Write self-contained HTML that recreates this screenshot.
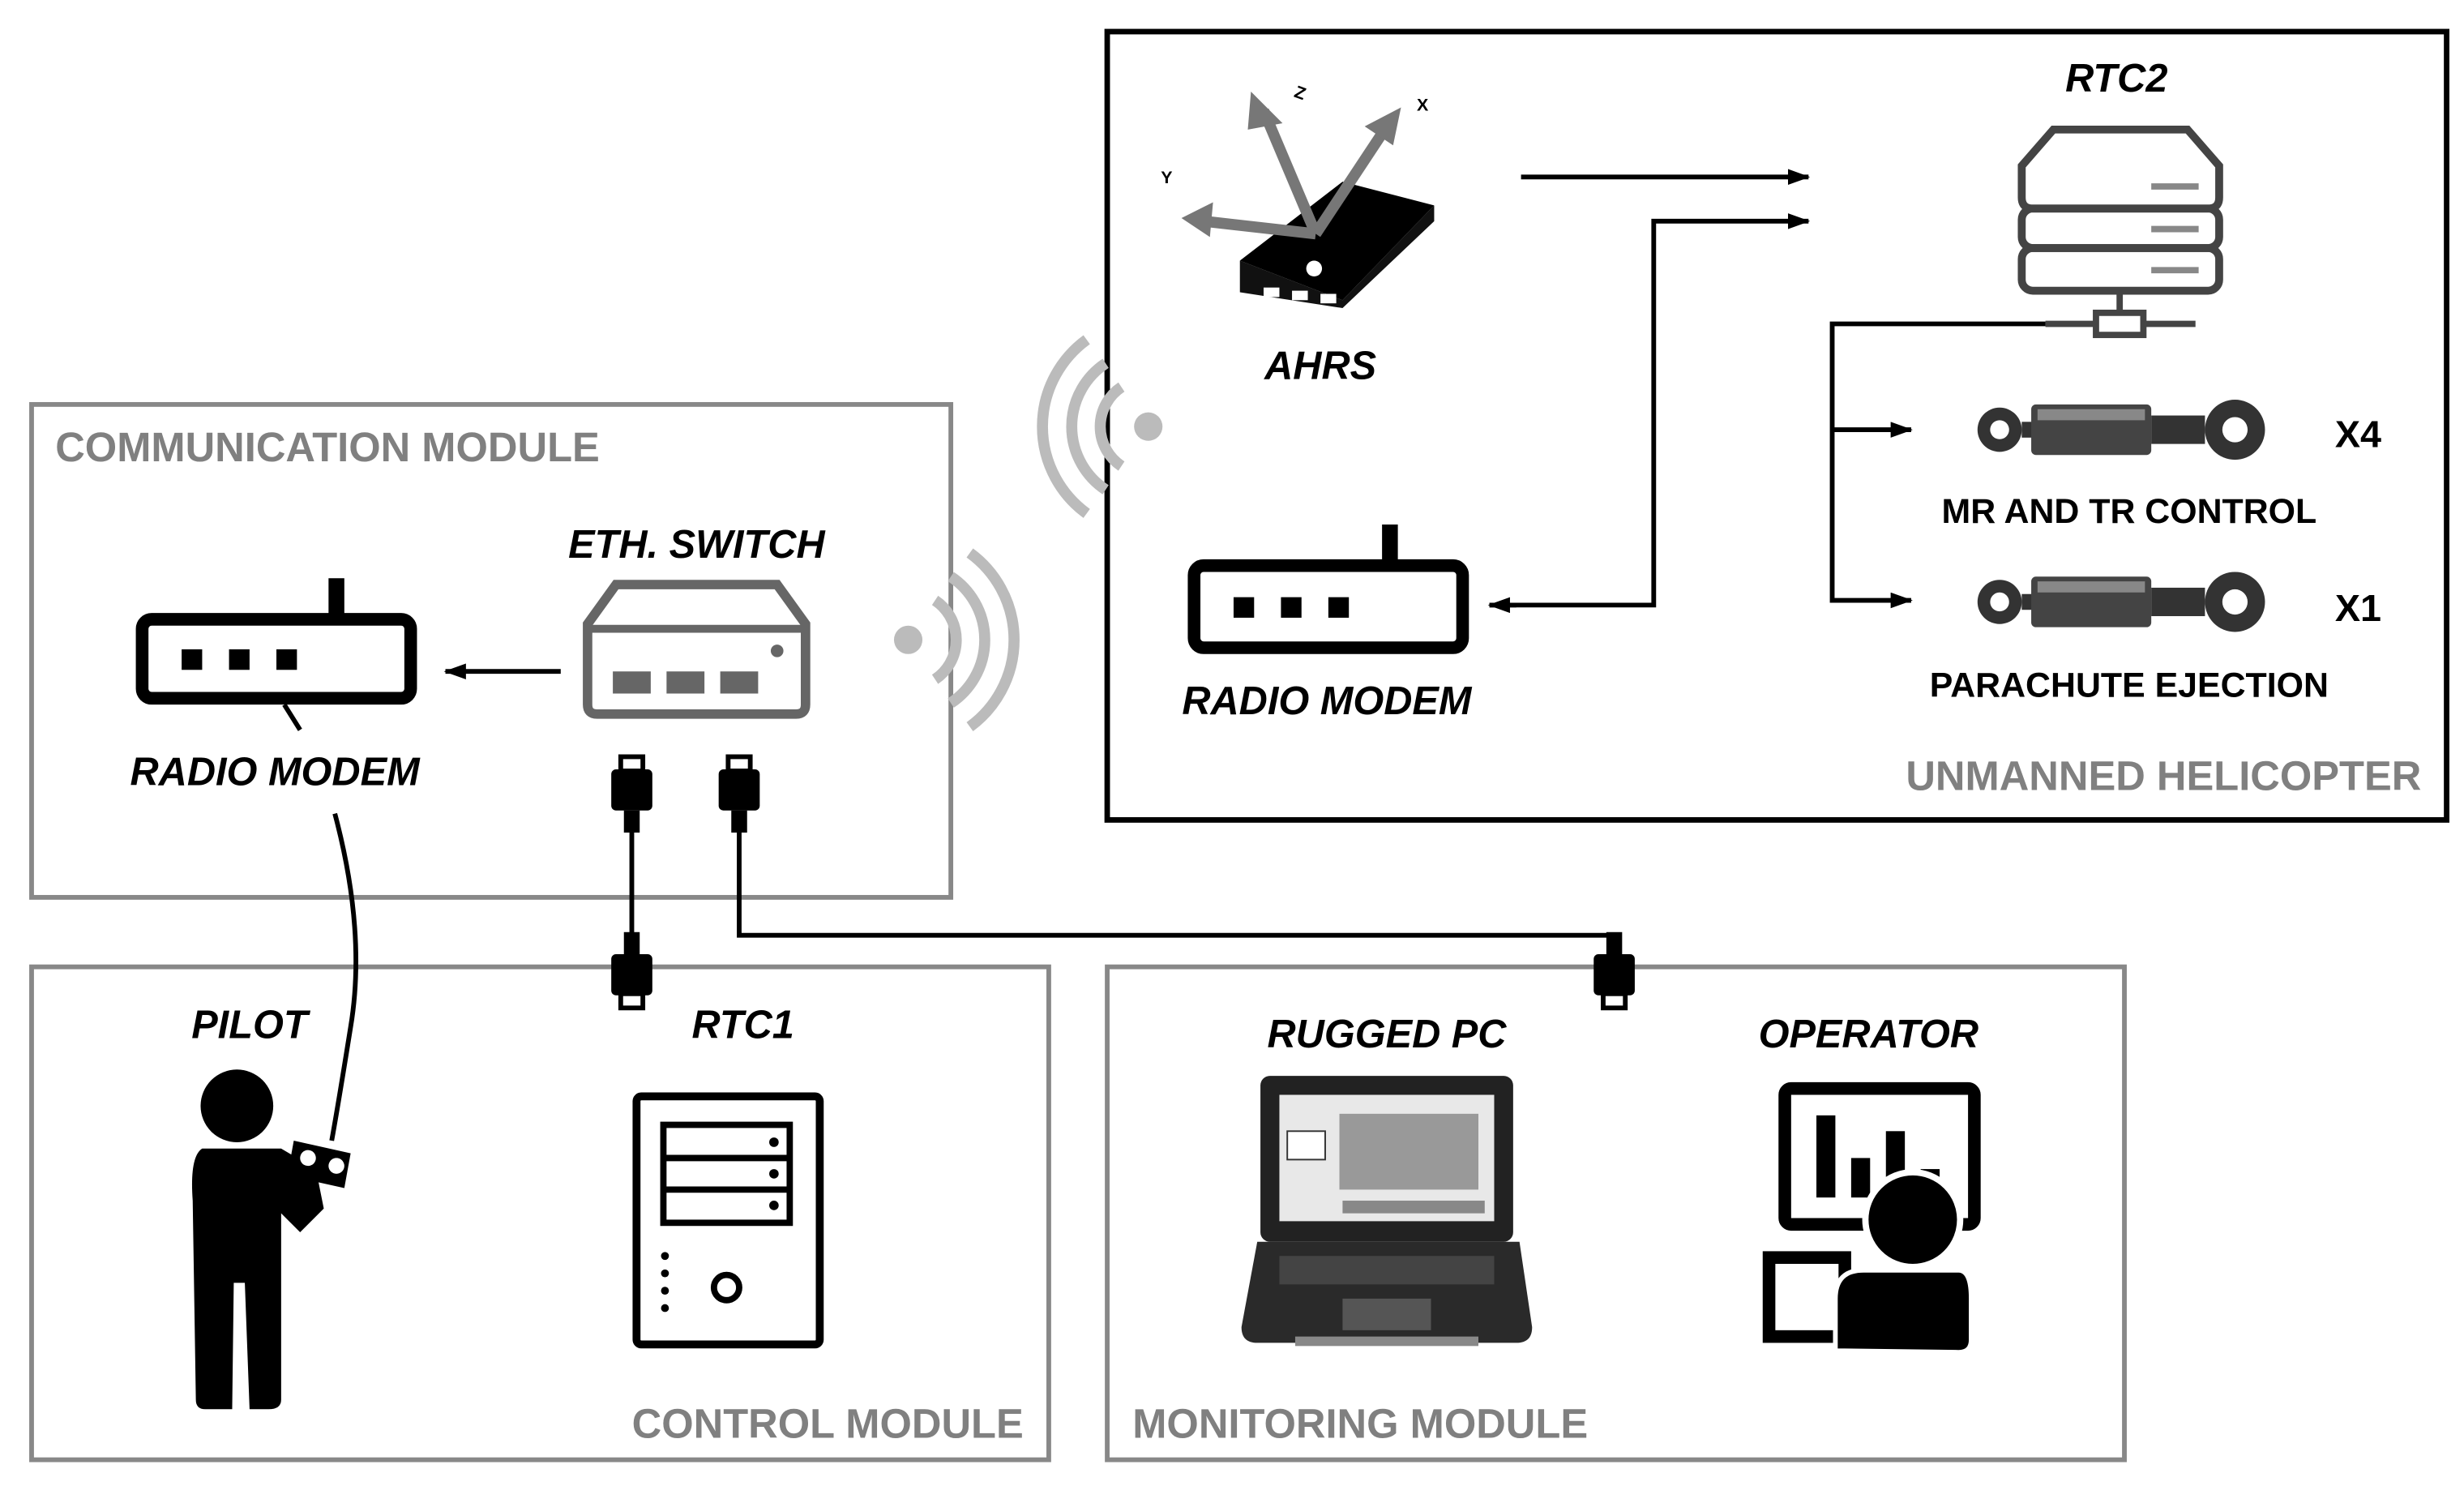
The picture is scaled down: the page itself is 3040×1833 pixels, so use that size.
<!DOCTYPE html>
<html><head><meta charset="utf-8"><style>
html,body{margin:0;padding:0;background:#fff;}
svg{display:block;}
text{font-family:"Liberation Sans",sans-serif;font-weight:bold;}
.lbl{font-style:italic;font-size:25px;fill:#000;}
.mod{font-size:26px;fill:#808080;}
.cap{font-size:22px;fill:#000;}
</style></head><body>
<svg width="3040" height="1833" viewBox="0 0 1560 940.6" xmlns="http://www.w3.org/2000/svg">
<defs>
<marker id="ah" markerWidth="8" markerHeight="8" refX="7" refY="4" orient="auto" markerUnits="userSpaceOnUse"><path d="M0,0 L8,4 L0,8 z" fill="#000"/></marker>
<marker id="ah2" markerWidth="14" markerHeight="10" refX="13" refY="5" orient="auto" markerUnits="userSpaceOnUse"><path d="M0,0 L14,5 L0,10 z" fill="#000"/></marker>
<g id="plug">
<rect x="-13" y="0" width="26" height="26" rx="3" fill="#000"/>
<rect x="-7" y="-8" width="14" height="9" fill="none" stroke="#000" stroke-width="3"/>
<rect x="-5" y="26" width="10" height="14" fill="#000"/>
</g>
<g id="act">
<circle cx="14" cy="17" r="14" fill="#333"/><circle cx="14" cy="17" r="6" fill="#fff"/>
<rect x="28" y="12" width="8" height="10" fill="#333"/>
<rect x="34" y="1" width="76" height="32" rx="3" fill="#444"/>
<rect x="38" y="4" width="68" height="7" fill="#888"/>
<rect x="110" y="8" width="34" height="18" fill="#333"/>
<circle cx="163" cy="17" r="19" fill="#333"/><circle cx="163" cy="17" r="8" fill="#fff"/>
</g>
</defs>
<rect width="1560" height="940.6" fill="#fff"/>

<!-- module boxes -->
<rect x="20" y="256" width="582" height="312" fill="none" stroke="#888" stroke-width="3"/>
<rect x="701" y="20" width="848" height="499" fill="none" stroke="#000" stroke-width="3.5"/>
<rect x="20" y="612" width="644" height="312" fill="none" stroke="#888" stroke-width="3"/>
<rect x="701" y="612" width="644" height="312" fill="none" stroke="#888" stroke-width="3"/>
<text class="mod" x="35" y="292">COMMUNICATION MODULE</text>
<text class="mod" x="1533" y="500" text-anchor="end">UNMANNED HELICOPTER</text>
<text class="mod" x="648" y="910" text-anchor="end">CONTROL MODULE</text>
<text class="mod" x="717" y="910">MONITORING MODULE</text>

<!-- left radio modem -->
<rect x="90" y="392" width="170" height="50" rx="6" fill="none" stroke="#000" stroke-width="8"/>
<rect x="208" y="366" width="10" height="28" fill="#000"/>
<rect x="115" y="411" width="13" height="13" fill="#000"/><rect x="145" y="411" width="13" height="13" fill="#000"/><rect x="175" y="411" width="13" height="13" fill="#000"/>
<line x1="180" y1="446" x2="190" y2="462" stroke="#000" stroke-width="3"/>
<text class="lbl" x="174" y="497" text-anchor="middle">RADIO MODEM</text>
<line x1="355" y1="425" x2="282" y2="425" stroke="#000" stroke-width="3" marker-end="url(#ah2)"/>

<!-- eth switch -->
<path d="M390,370 L492,370 L510,395 L510,446 Q510,452 504,452 L378,452 Q372,452 372,446 L372,395 Z" fill="none" stroke="#666" stroke-width="6"/>
<line x1="372" y1="398" x2="510" y2="398" stroke="#666" stroke-width="5"/>
<circle cx="492" cy="412" r="4" fill="#666"/>
<rect x="388" y="425" width="24" height="14" fill="#666"/><rect x="422" y="425" width="24" height="14" fill="#666"/><rect x="456" y="425" width="24" height="14" fill="#666"/>
<text class="lbl" x="441" y="353" text-anchor="middle">ETH. SWITCH</text>

<!-- cables -->
<use href="#plug" x="400" y="487"/>
<use href="#plug" x="468" y="487"/>
<line x1="400" y1="527" x2="400" y2="620" stroke="#000" stroke-width="3"/>
<polyline points="468,527 468,592 1022,592 1022,620" fill="none" stroke="#000" stroke-width="3"/>
<use href="#plug" x="400" y="670" transform="rotate(180 400 650)"/>
<use href="#plug" x="1022" y="670" transform="rotate(180 1022 650)"/>
<text class="lbl" x="438" y="657">RTC1</text>

<!-- wifi left -->
<g fill="none" stroke="#bbb" stroke-width="7">
<circle cx="575" cy="405" r="9" fill="#bbb" stroke="none"/>
<path d="M592,380 A30,30 0 0 1 592,430"/>
<path d="M602,365 A48,48 0 0 1 602,445"/>
<path d="M614,350 A68,68 0 0 1 614,460"/>
</g>
<!-- wifi right -->
<g fill="none" stroke="#bbb" stroke-width="7">
<circle cx="727" cy="270" r="9" fill="#bbb" stroke="none"/>
<path d="M710,245 A30,30 0 0 0 710,295"/>
<path d="M700,230 A48,48 0 0 0 700,310"/>
<path d="M688,215 A68,68 0 0 0 688,325"/>
</g>

<!-- AHRS -->
<path d="M785,165 L850,115 L908,130 L850,190 Z" fill="#000"/>
<path d="M785,165 L785,185 L850,195 L908,140 L908,130 L850,190 Z" fill="#111"/>
<rect x="800" y="182" width="10" height="6" fill="#fff"/><rect x="818" y="184" width="10" height="6" fill="#fff"/><rect x="836" y="186" width="10" height="6" fill="#fff"/>
<circle cx="832" cy="170" r="5" fill="#fff"/>
<g stroke="#777" stroke-width="7" fill="#777">
<line x1="833" y1="148" x2="800" y2="70"/><line x1="833" y1="148" x2="878" y2="80"/><line x1="833" y1="148" x2="762" y2="140"/>
</g>
<path d="M792,58 L812,78 L790,82 Z" fill="#777"/>
<path d="M887,68 L882,92 L864,80 Z" fill="#777"/>
<path d="M748,138 L768,128 L766,150 Z" fill="#777"/>
<text x="820" y="62" font-size="11" fill="#000" transform="rotate(20 822 58)">Z</text>
<text x="897" y="70" font-size="11" fill="#000">X</text>
<text x="735" y="116" font-size="11" fill="#000">Y</text>
<text class="lbl" x="836" y="240" text-anchor="middle">AHRS</text>

<!-- arrows to RTC2 -->
<line x1="963" y1="112" x2="1145" y2="112" stroke="#000" stroke-width="3" marker-end="url(#ah2)"/>
<polyline points="943,383 1047,383 1047,140 1145,140" fill="none" stroke="#000" stroke-width="3" marker-end="url(#ah2)"/>
<line x1="960" y1="383" x2="943" y2="383" stroke="#000" stroke-width="3" marker-end="url(#ah2)"/>

<!-- right radio modem -->
<rect x="756" y="358" width="170" height="52" rx="6" fill="none" stroke="#000" stroke-width="8"/>
<rect x="875" y="332" width="10" height="28" fill="#000"/>
<rect x="781" y="378" width="13" height="13" fill="#000"/><rect x="811" y="378" width="13" height="13" fill="#000"/><rect x="841" y="378" width="13" height="13" fill="#000"/>
<text class="lbl" x="840" y="452" text-anchor="middle">RADIO MODEM</text>

<!-- RTC2 server -->
<text class="lbl" x="1340" y="58" text-anchor="middle">RTC2</text>
<g fill="none" stroke="#444" stroke-width="5">
<path d="M1300,82 L1385,82 L1405,105 L1405,125 Q1405,132 1398,132 L1287,132 Q1280,132 1280,125 L1280,105 Z"/>
<rect x="1280" y="132" width="125" height="25" rx="7"/>
<rect x="1280" y="157" width="125" height="27" rx="7"/>
</g>
<g stroke="#888" stroke-width="4"><line x1="1362" y1="118" x2="1392" y2="118"/><line x1="1362" y1="145" x2="1392" y2="145"/><line x1="1362" y1="171" x2="1392" y2="171"/></g>
<line x1="1342" y1="184" x2="1342" y2="198" stroke="#444" stroke-width="4"/>
<line x1="1295" y1="205" x2="1390" y2="205" stroke="#444" stroke-width="4"/>
<rect x="1327" y="198" width="30" height="14" fill="#fff" stroke="#444" stroke-width="4"/>
<polyline points="1295,205 1160,205 1160,380 1210,380" fill="none" stroke="#000" stroke-width="3" marker-end="url(#ah2)"/>
<line x1="1160" y1="272" x2="1210" y2="272" stroke="#000" stroke-width="3" marker-end="url(#ah2)"/>

<use href="#act" x="1252" y="255"/>
<use href="#act" x="1252" y="364"/>
<text x="1493" y="283" font-size="24" text-anchor="middle" fill="#000">X4</text>
<text x="1493" y="393" font-size="24" text-anchor="middle" fill="#000">X1</text>
<text class="cap" x="1348" y="331" text-anchor="middle">MR AND TR CONTROL</text>
<text class="cap" x="1348" y="441" text-anchor="middle">PARACHUTE EJECTION</text>

<!-- pilot -->
<text class="lbl" x="158" y="657" text-anchor="middle">PILOT</text>
<path d="M212,515 Q232,590 222,650 Q214,700 210,722" fill="none" stroke="#000" stroke-width="3"/>
<circle cx="150" cy="700" r="23" fill="#000"/>
<path d="M128,727 L178,727 L200,740 L205,765 L190,780 L178,768 L178,886 Q178,892 170,892 L158,892 L155,812 L148,812 L147,892 L130,892 Q124,892 124,886 L122,760 Q120,732 128,727 Z" fill="#000"/>
<path d="M186,722 L222,730 L218,752 L182,744 Z" fill="#000"/>
<circle cx="195" cy="733" r="5" fill="#fff"/><circle cx="213" cy="738" r="5" fill="#fff"/>

<!-- PC tower -->
<rect x="403" y="694" width="116" height="157" rx="3" fill="none" stroke="#000" stroke-width="5"/>
<rect x="420" y="712" width="80" height="62" fill="none" stroke="#000" stroke-width="4"/>
<line x1="420" y1="733" x2="500" y2="733" stroke="#000" stroke-width="4"/><line x1="420" y1="753" x2="500" y2="753" stroke="#000" stroke-width="4"/>
<circle cx="490" cy="723" r="3" fill="#000"/><circle cx="490" cy="743" r="3" fill="#000"/><circle cx="490" cy="763" r="3" fill="#000"/>
<g fill="#000"><circle cx="421" cy="795" r="2.5"/><circle cx="421" cy="806" r="2.5"/><circle cx="421" cy="817" r="2.5"/><circle cx="421" cy="828" r="2.5"/></g>
<circle cx="460" cy="815" r="8" fill="none" stroke="#000" stroke-width="4"/>

<!-- rugged PC -->
<text class="lbl" x="878" y="663" text-anchor="middle">RUGGED PC</text>
<rect x="798" y="681" width="160" height="105" rx="6" fill="#222"/>
<rect x="810" y="693" width="136" height="80" fill="#e8e8e8"/>
<rect x="815" y="716" width="24" height="18" fill="#fff" stroke="#333" stroke-width="1"/>
<rect x="848" y="705" width="88" height="48" fill="#999"/>
<rect x="850" y="760" width="90" height="8" fill="#888"/>
<path d="M796,786 L962,786 L970,840 Q970,850 960,850 L796,850 Q786,850 786,840 Z" fill="#2a2a2a"/>
<rect x="810" y="795" width="136" height="18" fill="#444"/>
<rect x="850" y="822" width="56" height="20" fill="#555"/>
<rect x="820" y="846" width="116" height="6" fill="#888"/>

<!-- operator -->
<text class="lbl" x="1183" y="663" text-anchor="middle">OPERATOR</text>
<rect x="1130" y="689" width="120" height="86" rx="4" fill="none" stroke="#000" stroke-width="8"/>
<rect x="1150" y="706" width="12" height="52" fill="#000"/><rect x="1172" y="733" width="12" height="25" fill="#000"/><rect x="1194" y="716" width="12" height="42" fill="#000"/><rect x="1216" y="740" width="12" height="18" fill="#000"/>
<circle cx="1211" cy="772" r="30" fill="#000" stroke="#fff" stroke-width="4"/>
<rect x="1120" y="796" width="48" height="50" fill="#fff" stroke="#000" stroke-width="8"/>
<path d="M1162,855 L1162,822 Q1162,804 1180,804 L1240,804 Q1248,804 1248,822 L1248,848 Q1248,856 1240,856 Z" fill="#000" stroke="#fff" stroke-width="3"/>
</svg>
</body></html>
